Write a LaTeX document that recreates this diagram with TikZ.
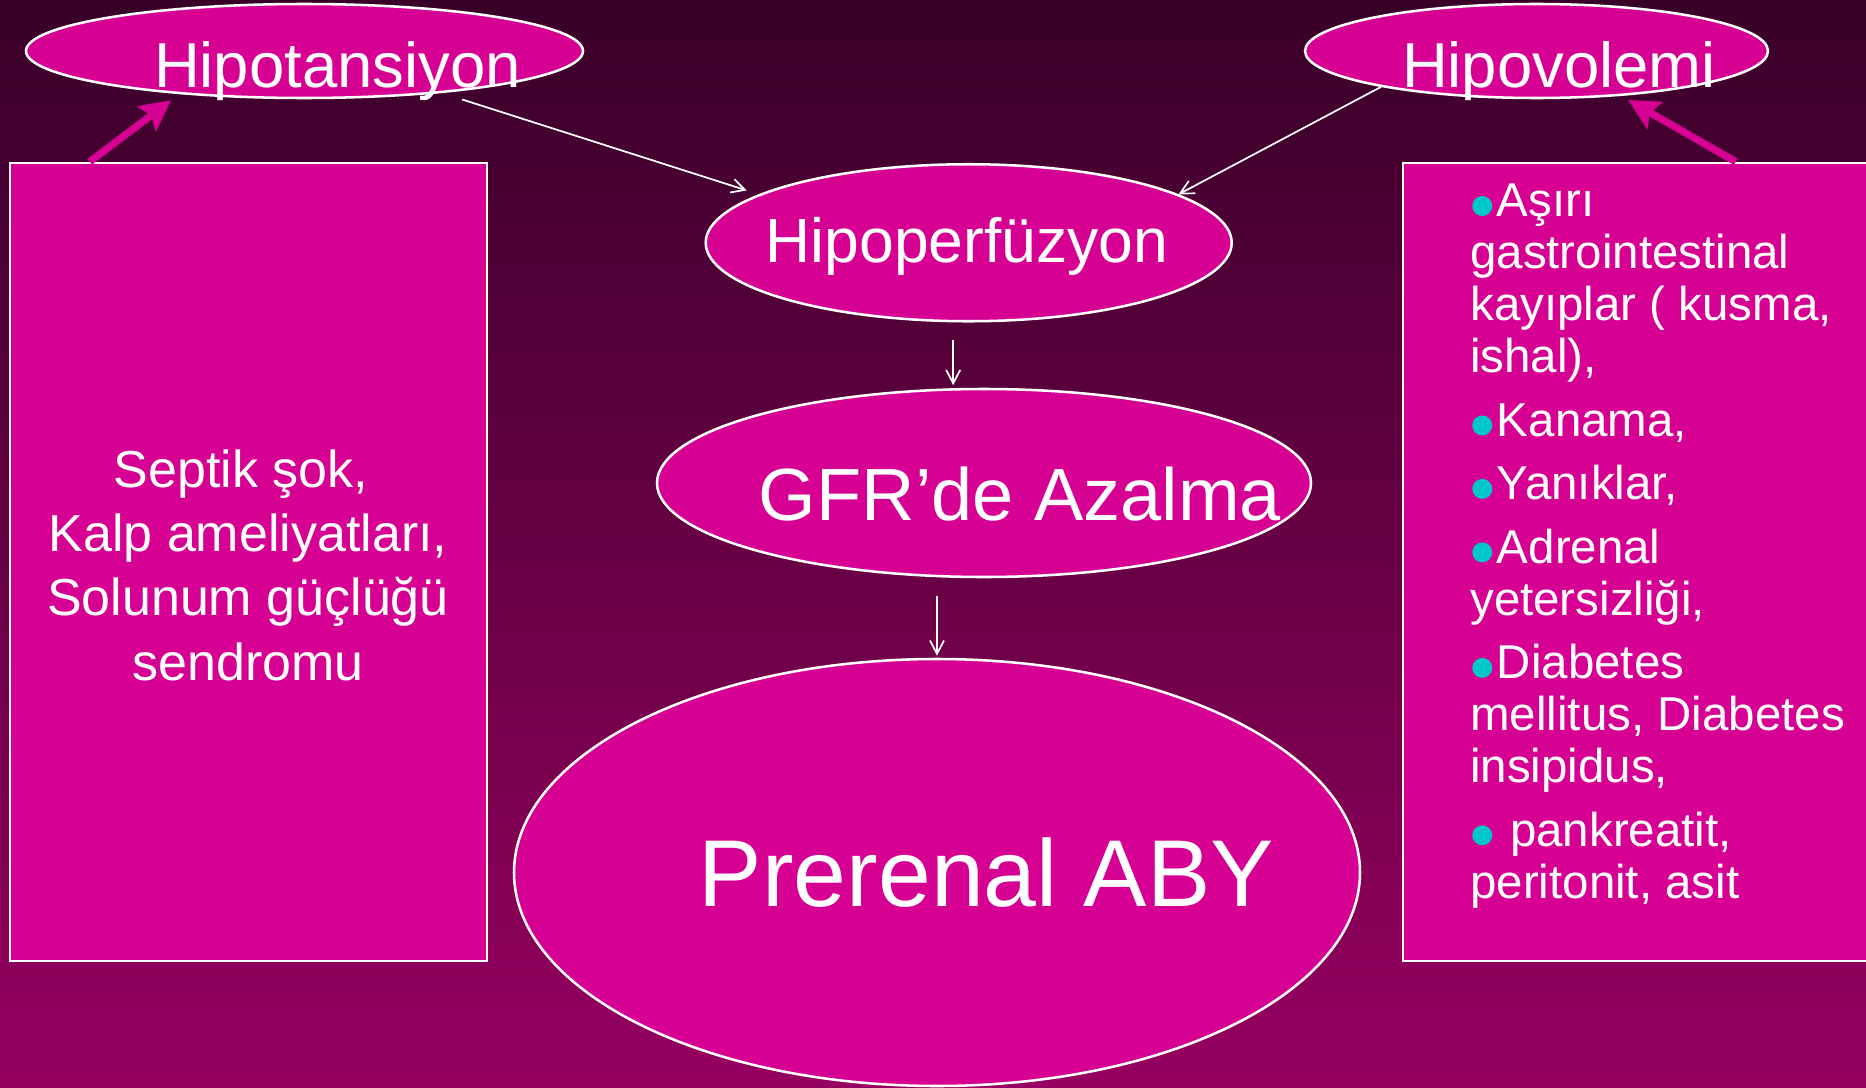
\documentclass[tikz,border=0pt]{standalone}
\usepackage{fontspec}
\setmainfont{Liberation Sans}
\usetikzlibrary{shapes.geometric,arrows.meta}

\definecolor{slidetop}{RGB}{56,0,40}
\definecolor{slidebottom}{RGB}{150,0,96}
\definecolor{pinkfill}{RGB}{214,0,147}
\definecolor{dotcyan}{RGB}{0,200,200}

\newcommand{\cyandot}{\hspace*{1.5pt}\tikz[baseline=-8pt]\fill[dotcyan] (0,0) circle[radius=7.5pt];\hspace*{3.5pt}}

\begin{document}
\begin{tikzpicture}[x=0.75pt,y=0.75pt,yscale=-1,xscale=1,
  oval/.style={ellipse,draw=white,line width=1.9pt,fill=pinkfill,inner sep=0pt},
  panel/.style={rectangle,draw=white,line width=1.9pt,fill=pinkfill,inner sep=0pt},
  lbl/.style={text=white,inner sep=0pt,anchor=base},
  thinarrow/.style={draw=white,line width=1.3pt,-{Straight Barb[length=10pt,width=10.5pt]}},
  fatarrow/.style={draw=pinkfill,line width=5.5pt,-{Stealth[length=23pt,width=23pt,inset=4pt]}}]
%set diagram to 1866 x 1088
\clip (0,0) rectangle (1866,1088);
%Shape: Background
\shade[top color=slidetop,bottom color=slidebottom] (0,0) rectangle (1866,1088);

%Shape: Ellipse
\node[oval,minimum width=417.75pt,minimum height=70.5pt] (hypot) at (304.5,51) {};
%Shape: Ellipse
\node[oval,minimum width=347.25pt,minimum height=70.5pt] (hypov) at (1536.5,51) {};
%Shape: Ellipse
\node[oval,minimum width=394.5pt,minimum height=117.75pt] (hypop) at (968.7,242.75) {};
%Shape: Ellipse
\node[oval,minimum width=490.5pt,minimum height=141pt] (gfr) at (984,483) {};
%Shape: Ellipse
\node[oval,minimum width=634.5pt,minimum height=320.25pt] (prer) at (937,872.5) {};

%Shape: Rectangle
\node[panel,minimum width=357.75pt,minimum height=598.5pt] (lbox) at (248.5,562) {};
%Shape: Rectangle
\node[panel,minimum width=357.75pt,minimum height=598.5pt] (rbox) at (1641.5,562) {};

% Text Node
\node[lbl,font=\fontsize{47.6pt}{57pt}\selectfont] (hypottxt) at (337.5,87.3) {Hipotansiyon};
% Text Node
\node[lbl,font=\fontsize{47.6pt}{57pt}\selectfont] (hypovtxt) at (1559,87.3) {Hipovolemi};
% Text Node
\node[lbl,font=\fontsize{46.8pt}{56pt}\selectfont] (hypoptxt) at (967,262.7) {Hipoperfüzyon};
% Text Node
\node[lbl,font=\fontsize{55.5pt}{66pt}\selectfont] (gfrtxt) at (1020,520.7) {GFR’de Azalma};
% Text Node
\node[lbl,font=\fontsize{71.2pt}{85pt}\selectfont] (prertxt) at (986.5,906) {Prerenal ABY};
% Text Node (base = last line)
\node[lbl,align=center,font=\fontsize{39pt}{48.2pt}\selectfont] (ltxt) at (248,680) {Septik şok,\hspace*{.28em}\\Kalp ameliyatları,\hspace*{.28em}\\Solunum güçlüğü\hspace*{.28em}\\sendromu};
% Text Node (base = last line)
\node[lbl,anchor=base west,align=left,font=\fontsize{35.6pt}{39pt}\selectfont] (rtxt) at (1470,898) {\cyandot Aşırı\\gastrointestinal\\kayıplar ( kusma,\\ishal),\\[8.6pt]\cyandot Kanama,\\[8.6pt]\cyandot Yanıklar,\\[8.6pt]\cyandot Adrenal\\yetersizliği,\\[8.6pt]\cyandot Diabetes\\mellitus, Diabetes\\insipidus,\\[8.6pt]\cyandot\ pankreatit,\\peritonit, asit};

%Straight Lines
\draw[thinarrow,shorten <=15.8pt,shorten >=9.5pt] (hypot.-17.35) -- (hypop.167.8);
\draw[thinarrow] (hypov.-167.5) -- (hypop.13.2);
\draw[thinarrow,shorten <=13pt,shorten >=2.25pt] (hypop.south -| gfr.108.5) -- (gfr.108.5);
\draw[thinarrow,shorten <=13.5pt,shorten >=1.5pt] (gfr.south -| prer.north) -- (prer.north);
%Thick Arrows
\draw[fatarrow,shorten >=7.5pt] ([xshift=60.75pt]lbox.north west) -- (hypot.-161.9);
\draw[fatarrow,shorten >=6.15pt] ([xshift=250.5pt]rbox.north west) -- (hypov.-28.05);

\end{tikzpicture}
\end{document}
